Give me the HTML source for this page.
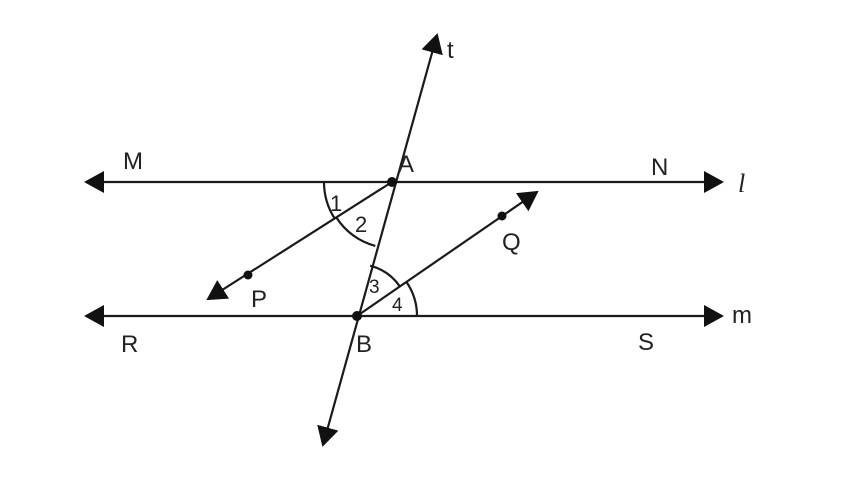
<!DOCTYPE html>
<html><head><style>body{margin:0;background:#fff}svg{display:block}</style></head>
<body>
<svg width="853" height="480" viewBox="0 0 853 480" xmlns="http://www.w3.org/2000/svg">
<defs>
<marker id="ar" viewBox="0 0 20 22" refX="18" refY="11" markerWidth="20" markerHeight="22" markerUnits="userSpaceOnUse" orient="auto-start-reverse">
<path d="M0,0 L20,11 L0,22 Z" fill="#111"/>
</marker>
</defs>
<g stroke="#1a1a1a" stroke-width="2.2" fill="none">
<line x1="86" y1="182" x2="722" y2="182" marker-start="url(#ar)" marker-end="url(#ar)"/>
<line x1="86" y1="316" x2="722" y2="316" marker-start="url(#ar)" marker-end="url(#ar)"/>
<line x1="323" y1="445" x2="437" y2="35" marker-start="url(#ar)" marker-end="url(#ar)"/>
<line x1="392" y1="182" x2="208" y2="299" marker-end="url(#ar)"/>
<line x1="357" y1="316" x2="537" y2="192" marker-end="url(#ar)"/>
<path d="M324,182 A68,68 0 0 0 334.7,218.6"/>
<path d="M336.4,217.5 A66,66 0 0 0 375.3,245.9"/>
<path d="M370.1,265.7 A52,52 0 0 1 399.8,286.4"/>
<path d="M406.4,281.9 A60,60 0 0 1 417,316"/>
</g>
<g fill="#111">
<circle cx="392" cy="182" r="5"/>
<circle cx="357" cy="316" r="5"/>
<circle cx="248" cy="275" r="4.5"/>
<circle cx="502" cy="216" r="4.5"/>
</g>
<g font-family="Liberation Sans, sans-serif" font-size="24" fill="#222">
<text x="447" y="58">t</text>
<text x="123" y="169">M</text>
<text x="398" y="172">A</text>
<text x="651" y="175">N</text>
<text x="738" y="192" font-family="Liberation Serif, serif" font-style="italic" font-size="26">l</text>
<text x="330" y="211" font-size="22">1</text>
<text x="355" y="232" font-size="22">2</text>
<text x="502" y="250">Q</text>
<text x="251" y="307">P</text>
<text x="369" y="293" font-size="19">3</text>
<text x="392" y="311" font-size="19">4</text>
<text x="121" y="352">R</text>
<text x="356" y="352">B</text>
<text x="638" y="350">S</text>
<text x="732" y="323">m</text>
</g>
</svg>
</body></html>
